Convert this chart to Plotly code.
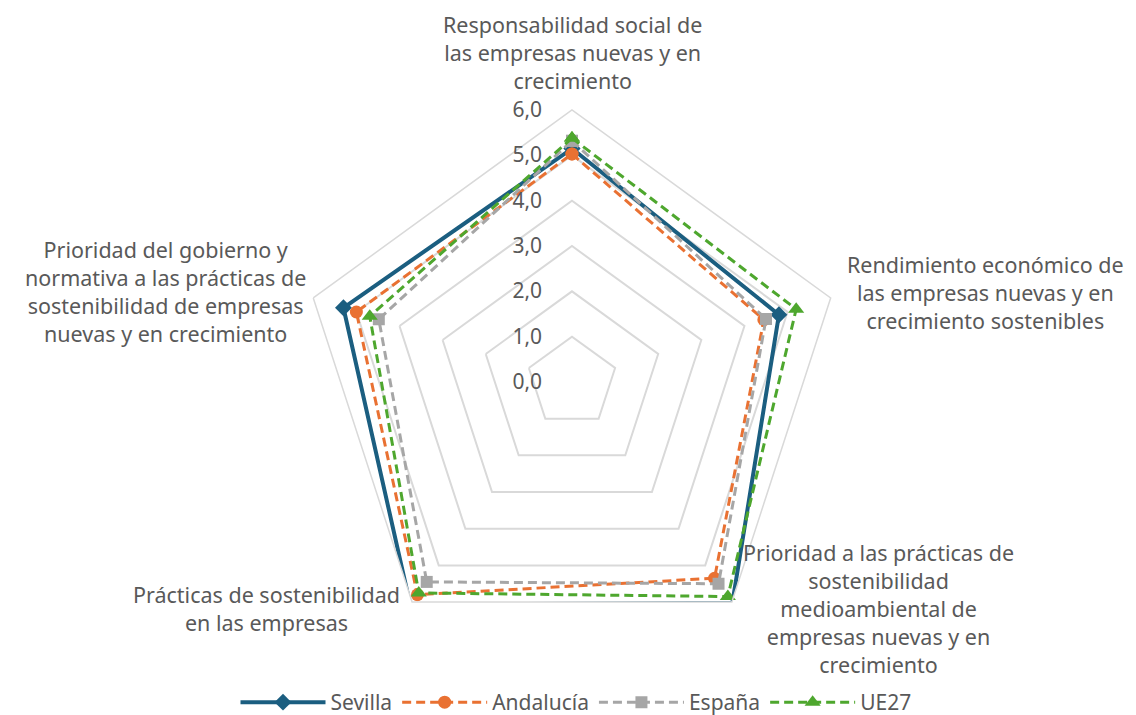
import plotly.graph_objects as go

# categories, clockwise from the top
categorias = [
    "Responsabilidad social de<br>las empresas nuevas y en<br>crecimiento",
    "Rendimiento económico de<br>las empresas nuevas y en<br>crecimiento sostenibles",
    "Prioridad a las prácticas de<br>sostenibilidad<br>medioambiental de<br>empresas nuevas y en<br>crecimiento",
    "Prácticas de sostenibilidad<br>en las empresas",
    "Prioridad del gobierno y<br>normativa a las prácticas de<br>sostenibilidad de empresas<br>nuevas y en crecimiento",
]
claves = ["resp", "rend", "prio_med", "pract", "prio_gob"]

sevilla = [5.15, 4.8, 6.02, 6.07, 5.3]
andalucia = [5.03, 4.45, 5.35, 5.8, 5.0]
espana = [5.32, 4.5, 5.5, 5.45, 4.48]
ue27 = [5.38, 5.2, 5.85, 5.75, 4.69]

series = [
    ("Sevilla", sevilla, "#1B5E80", "solid", "diamond", 13, 4),
    ("Andalucía", andalucia, "#E97132", "9px,5px", "circle", 13, 3),
    ("España", espana, "#A6A6A6", "9px,5px", "square", 12, 3),
    ("UE27", ue27, "#4EA72E", "9px,5px", "triangle-up", 14, 3),
]

fig = go.Figure()
for nombre, vals, color, dash, simbolo, tam, ancho in series:
    fig.add_trace(go.Scatterpolar(
        r=vals + vals[:1],
        theta=claves + claves[:1],
        mode="lines+markers",
        name=nombre,
        line=dict(color=color, width=ancho, dash=dash),
        marker=dict(symbol=simbolo, size=tam, color=color),
        cliponaxis=False,
    ))

# category labels placed around the pentagon (pixel centres)
pos_etiquetas = [
    (564, 44),
    (977, 284),
    (870, 600),
    (258, 600),
    (157, 283),
]
W, H = 1136, 715
for texto, (px, py) in zip(categorias, pos_etiquetas):
    fig.add_annotation(
        x=px / W, y=1 - py / H, xref="paper", yref="paper",
        text=texto, showarrow=False, align="center",
        font=dict(size=21.5, color="#595959"),
        xanchor="center", yanchor="middle",
    )

gris = "#D9D9D9"
fig.update_layout(
    width=W, height=H,
    paper_bgcolor="white",
    font=dict(family="Noto Sans", color="#595959"),
    separators=",.",
    margin=dict(l=0, r=0, t=0, b=0),
    polar=dict(
        domain=dict(x=[0.2570, 0.7359], y=[0.0950, 0.8588]),
        gridshape="linear",
        bgcolor="white",
        radialaxis=dict(
            range=[0, 6], dtick=1, tick0=0, tickformat=".1f",
            angle=90, tickangle=90, side="counterclockwise",
            showline=False, ticks="outside", ticklen=22,
            tickcolor="rgba(0,0,0,0)",
            gridcolor=gris, gridwidth=1.5,
            tickfont=dict(size=21, color="#595959"),
        ),
        angularaxis=dict(
            rotation=90, direction="clockwise",
            showticklabels=False, ticks="",
            showgrid=False, showline=True,
            linecolor=gris, linewidth=1.5,
        ),
    ),
    showlegend=True,
    legend=dict(
        orientation="h", x=0.5, xanchor="center", y=0, yanchor="bottom",
        font=dict(size=21, color="#595959"),
        itemwidth=85,
    ),
)

fig.write_html("out.html")
